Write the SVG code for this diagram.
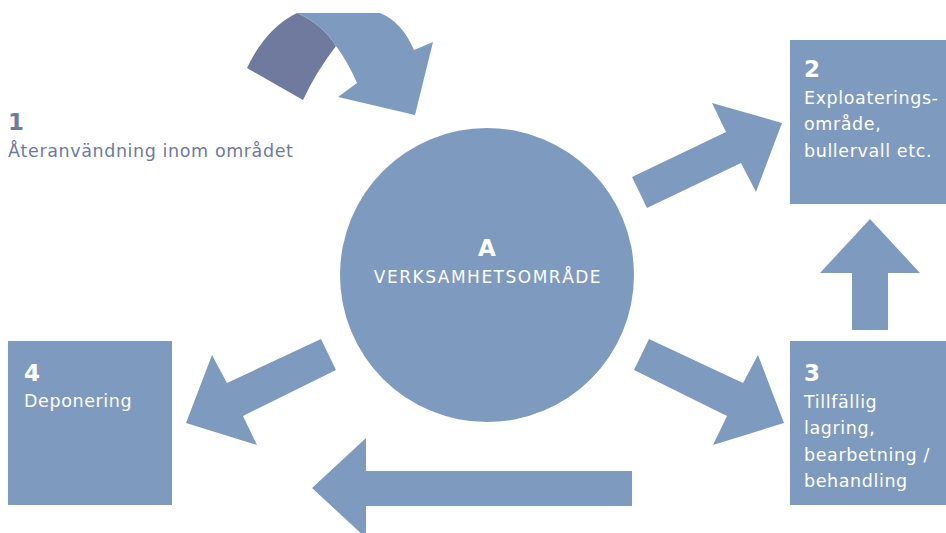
<svg xmlns="http://www.w3.org/2000/svg" width="946" height="533" viewBox="0 0 946 533">
<style>
.f{fill:#7f9abf}
.t{font-family:"DejaVu Sans","Open Sans",sans-serif;fill:#fff}
.n{font-weight:bold;font-size:23px}
.l{font-size:17.5px;letter-spacing:0.6px}
.c{font-size:17px;letter-spacing:1.5px}
.d{fill:#6f7a9e}
</style>
<rect width="946" height="533" fill="#fff"/>
<g id="connectors">
<path class="d" d="M247,68 Q266,28 297,13 Q322,24 336,46 Q316,72 303,100 Z"/>
<path class="f" d="M297,13 L380,13 Q402,22 414,50 L433,42 L415,115 L338,97 L357,83 Q348,62 336,46 Q322,24 297,13 Z"/>
<polygon class="f" points="632,177 726,132 712,103 782,123 756,192 741,163 647,208"/>
<polygon class="f" points="852,330 852,273 820,273 870,219 920,273 888,273 888,330"/>
<polygon class="f" points="649,339 634,370 727,416 713,445 784,423 758,355 743,383"/>
<polygon class="f" points="321,339 336,370 243,416 257,445 186,423 212,355 227,383"/>
<polygon class="f" points="632,471 366,471 366,438 312,488 366,538 366,506 632,506"/>
</g>
<g id="node1">
<text class="t n" x="8" y="130" style="fill:#6f7a9e">1</text>
<text class="t l" x="8" y="157" style="fill:#6f7a9e">Återanvändning inom området</text>
</g>
<g id="nodeA">
<circle class="f" cx="487" cy="275" r="147"/>
<text class="t n" x="487" y="256" text-anchor="middle">A</text>
<text class="t c" x="488" y="283" text-anchor="middle">VERKSAMHETSOMRÅDE</text>
</g>
<g id="node2">
<rect class="f" x="790" y="40" width="156" height="164"/>
<text class="t n" x="804" y="77">2</text>
<text class="t l" x="804" y="104">Exploaterings-</text>
<text class="t l" x="804" y="130">område,</text>
<text class="t l" x="804" y="157">bullervall etc.</text>
</g>
<g id="node3">
<rect class="f" x="790" y="341" width="156" height="164"/>
<text class="t n" x="804" y="381">3</text>
<text class="t l" x="804" y="408">Tillfällig</text>
<text class="t l" x="804" y="434">lagring,</text>
<text class="t l" x="804" y="461">bearbetning /</text>
<text class="t l" x="804" y="487">behandling</text>
</g>
<g id="node4">
<rect class="f" x="8" y="341" width="164" height="164"/>
<text class="t n" x="24" y="381">4</text>
<text class="t l" x="24" y="407">Deponering</text>
</g>
</svg>
